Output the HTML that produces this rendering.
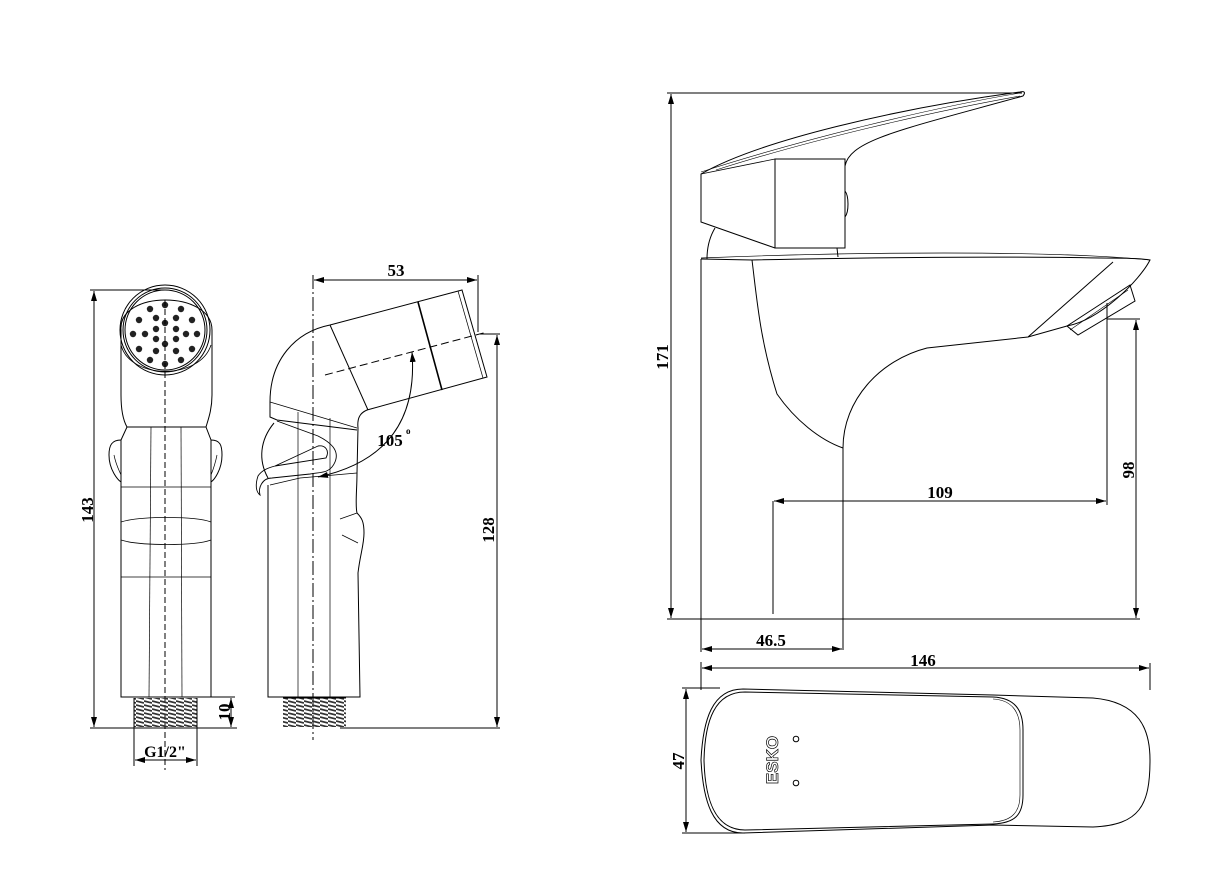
<!DOCTYPE html>
<html><head><meta charset="utf-8"><style>
html,body{margin:0;padding:0;background:#fff}
svg{display:block}
text{font-family:"Liberation Serif",serif;font-weight:bold;fill:#000}
</style></head><body>
<svg width="1221" height="876" viewBox="0 0 1221 876" xmlns="http://www.w3.org/2000/svg">
<defs>
<marker id="a" viewBox="0 0 10 6" refX="10" refY="3" markerWidth="10" markerHeight="6" orient="auto-start-reverse" markerUnits="userSpaceOnUse"><path d="M0,0 L10,3 L0,6 z" fill="#000"/></marker>
<pattern id="th" width="8" height="4" patternUnits="userSpaceOnUse"><path d="M0,1 L8,3" stroke="#333" stroke-width="1.8"/></pattern>
</defs>
<g fill="none" stroke="#000" stroke-width="1">

<!-- ===== FRONT VIEW SPRAYER ===== -->
<line x1="94" y1="291" x2="94" y2="727" marker-start="url(#a)" marker-end="url(#a)"/>
<line x1="90" y1="290" x2="165" y2="290"/>
<line x1="90" y1="728" x2="237" y2="728"/>
<path d="M121,330 C118,290 212,290 212,330 L212,395 C212,410 208,420 206,427 L127,427 C123,420 121,410 121,395 Z"/>
<circle cx="165" cy="330" r="45"/>
<circle cx="165" cy="330" r="42"/>
<circle cx="165" cy="330" r="40"/>
<path d="M121,345 C130,380 200,380 211,345" stroke-width="0.8"/>
<g fill="#222" stroke="none">
<circle cx="165" cy="305" r="3.2"/><circle cx="150" cy="309" r="3.2"/><circle cx="181" cy="309" r="3.2"/>
<circle cx="139" cy="320" r="3.2"/><circle cx="192" cy="320" r="3.2"/><circle cx="156" cy="318" r="3.2"/><circle cx="176" cy="318" r="3.2"/>
<circle cx="165" cy="323" r="3.2"/><circle cx="133" cy="334" r="3.2"/><circle cx="145" cy="334" r="3.2"/><circle cx="156" cy="329" r="3.2"/>
<circle cx="176" cy="329" r="3.2"/><circle cx="186" cy="334" r="3.2"/><circle cx="197" cy="334" r="3.2"/>
<circle cx="156" cy="339" r="3.2"/><circle cx="176" cy="339" r="3.2"/><circle cx="165" cy="344" r="3.2"/>
<circle cx="139" cy="349" r="3.2"/><circle cx="192" cy="349" r="3.2"/><circle cx="156" cy="351" r="3.2"/><circle cx="176" cy="351" r="3.2"/>
<circle cx="150" cy="360" r="3.2"/><circle cx="181" cy="360" r="3.2"/><circle cx="165" cy="364" r="3.2"/>
</g>
<path d="M127,427 L121,440 L121,697 L211,697 L211,440 L206,427"/>
<path d="M121,440 C112,440 109,445 109,455 C109,470 118,480 121,482"/>
<path d="M114,455 C116,465 119,470 121,475" stroke-width="0.7"/>
<path d="M211,440 C220,440 222,445 222,455 C222,470 214,480 211,482"/>
<path d="M217,455 C215,465 213,470 211,475" stroke-width="0.7"/>
<line x1="121" y1="487" x2="211" y2="487" stroke-width="0.8"/>
<line x1="121" y1="577" x2="211" y2="577" stroke-width="0.8"/>
<path d="M121,522 C140,516 195,516 211,522 L211,540 C195,546 140,546 121,540" stroke-width="0.8"/>
<line x1="151" y1="427" x2="149" y2="697" stroke-width="0.7"/>
<line x1="181" y1="427" x2="182" y2="697" stroke-width="0.7"/>
<line x1="165" y1="300" x2="165" y2="770" stroke-dasharray="6,3"/>
<rect x="134" y="698" width="63" height="29" fill="url(#th)" stroke="none"/>
<line x1="134" y1="698" x2="134" y2="766"/><line x1="197" y1="698" x2="197" y2="766"/>
<line x1="135" y1="760" x2="196" y2="760" marker-start="url(#a)" marker-end="url(#a)"/>
<line x1="200" y1="697" x2="235" y2="697"/>
<line x1="231" y1="698" x2="231" y2="727" marker-start="url(#a)" marker-end="url(#a)"/>

<!-- ===== SIDE VIEW SPRAYER ===== -->
<line x1="314" y1="280" x2="477" y2="280" marker-start="url(#a)" marker-end="url(#a)"/>
<line x1="313" y1="275" x2="313" y2="740" stroke-dasharray="14,3,2,3"/>
<line x1="478" y1="275" x2="478" y2="332"/>
<line x1="480" y1="334" x2="500" y2="334"/>
<line x1="497" y1="335" x2="497" y2="727" marker-start="url(#a)" marker-end="url(#a)"/>
<line x1="340" y1="728" x2="500" y2="728"/>
<path d="M270,402 C270,360 295,332 330,325 L462,290 L487,377 L367,410 C360,413 357,418 358,428 L357,473 C357,490 355,505 357,513 C362,518 364,522 364,533 C364,545 360,555 358,573 L360,697 L268,697 L268,485"/>
<line x1="330" y1="325" x2="368" y2="410"/>
<line x1="418" y1="302" x2="442" y2="390" stroke-width="1.6"/>
<line x1="458" y1="291" x2="483" y2="378" stroke-width="0.7"/>
<line x1="325" y1="375" x2="487" y2="332" stroke-dasharray="8,4"/>
<path d="M270,402 L270,417 L277,420 L357,430"/>
<line x1="270" y1="402" x2="357" y2="428" stroke-width="0.7"/>
<path d="M274,423 C260,440 258,460 268,478"/>
<path d="M277,421 L318,436 C330,442 340,450 335,462 C330,474 320,472 310,474 L272,478 C262,478 258,488 260,495 C256,492 255,485 258,476 C262,470 268,468 275,466 L318,446 C325,445 330,450 326,458 L275,466" stroke-width="0.9"/>
<path d="M270,485 L300,478 L357,473" stroke-width="0.8"/>
<line x1="298" y1="412" x2="298" y2="697" stroke-width="0.7"/>
<line x1="330" y1="418" x2="330" y2="697" stroke-width="0.7"/>
<path d="M357,513 L340,519 M358,543 L342,535" stroke-width="0.7"/>
<rect x="283" y="698" width="63" height="29" fill="url(#th)" stroke="none"/>
<line x1="283" y1="698" x2="346" y2="698"/>
<path d="M412,352 Q420,455 318,477" marker-start="url(#a)" marker-end="url(#a)"/>

<!-- ===== FAUCET SIDE VIEW ===== -->
<line x1="671" y1="94" x2="671" y2="618" marker-start="url(#a)" marker-end="url(#a)"/>
<line x1="667" y1="93" x2="1022" y2="93"/>
<line x1="667" y1="619" x2="1140" y2="619"/>
<path d="M701,259 L701,619"/>
<path d="M701,259 L752,260 C850,258 1000,256 1100,258 C1130,258 1145,259 1150,260 C1140,280 1100,320 1067,326 L1028,337 L927,348 C880,360 843,400 843,448 L843,650"/>
<path d="M701,258 C850,252 1050,250 1150,260" stroke-width="0.7"/>
<path d="M752,260 C757,300 760,340 777,394 C795,420 820,440 843,448"/>
<line x1="1028" y1="337" x2="1113" y2="262"/>
<path d="M1067,326 L1130,285 L1135,301 L1078,335 Z"/>
<line x1="1070" y1="330" x2="1128" y2="290" stroke-width="0.6"/>
<path d="M701,174 L701,222 L775,248 L845,248 L845,166 C850,140 900,130 1023,96 C1026,92 1024,91 1020,92 C900,108 760,140 701,174 Z"/>
<rect x="775" y="159" width="70" height="89"/>
<path d="M701,174 L775,159" stroke-width="0.8"/>
<path d="M701,172 C800,140 930,108 1020,93" stroke-width="0.6"/>
<path d="M716,170 C810,140 930,112 1020,96" stroke-width="0.6"/>
<path d="M715,228 C709,238 707,248 707,259"/>
<path d="M837,248 L838,257"/>
<path d="M845,191 C849,196 849,212 845,217"/>
<line x1="1107" y1="303" x2="1107" y2="505"/>
<line x1="1107" y1="319" x2="1140" y2="319"/>
<line x1="1136" y1="320" x2="1136" y2="618" marker-start="url(#a)" marker-end="url(#a)"/>
<line x1="774" y1="501" x2="1106" y2="501" marker-start="url(#a)" marker-end="url(#a)"/>
<line x1="773" y1="501" x2="773" y2="614"/>
<line x1="701" y1="619" x2="701" y2="652"/>
<line x1="702" y1="649" x2="842" y2="649" marker-start="url(#a)" marker-end="url(#a)"/>

<!-- ===== TOP VIEW ===== -->
<line x1="701" y1="662" x2="701" y2="690"/>
<line x1="1150" y1="663" x2="1150" y2="690"/>
<line x1="702" y1="668" x2="1149" y2="668" marker-start="url(#a)" marker-end="url(#a)"/>
<line x1="682" y1="688" x2="720" y2="688"/>
<line x1="682" y1="833" x2="745" y2="833"/>
<line x1="686" y1="689" x2="686" y2="832" marker-start="url(#a)" marker-end="url(#a)"/>
<path d="M743,689 L993,695 L1093,698 C1140,702 1150,730 1150,760 C1150,805 1140,825 1093,827 L993,825 L743,833 C712,833 703,800 701,760 C703,720 712,689 743,689 Z"/>
<path d="M745,692 L993,697 C1015,698 1023,710 1023,730 L1023,795 C1023,815 1015,823 993,824 L745,830 C715,830 705,800 704,760 C705,720 715,692 745,692 Z"/>
<path d="M993,699 C1012,700 1020,712 1020,730 L1020,795 C1020,812 1012,821 993,822" stroke-width="0.6"/>
<circle cx="796" cy="739" r="2.8"/>
<circle cx="796" cy="783" r="2.8"/>
</g>

<!-- text -->
<text x="0" y="0" font-size="17" transform="translate(93,510) rotate(-90)" text-anchor="middle">143</text>
<text x="0" y="0" font-size="17" transform="translate(230,712) rotate(-90)" text-anchor="middle">10</text>
<text x="165" y="757" font-size="16" text-anchor="middle">G1/2"</text>
<text x="396" y="276" font-size="17" text-anchor="middle">53</text>
<text x="0" y="0" font-size="17" transform="translate(494,530) rotate(-90)" text-anchor="middle">128</text>
<text x="390" y="446" font-size="17" text-anchor="middle">105</text>
<text x="406" y="434" font-size="9" font-weight="normal">o</text>
<text x="0" y="0" font-size="17" transform="translate(668,357) rotate(-90)" text-anchor="middle">171</text>
<text x="0" y="0" font-size="17" transform="translate(1134,470) rotate(-90)" text-anchor="middle">98</text>
<text x="940" y="498" font-size="17" text-anchor="middle">109</text>
<text x="771" y="646" font-size="17" text-anchor="middle">46.5</text>
<text x="923" y="666" font-size="17" text-anchor="middle">146</text>
<text x="0" y="0" font-size="17" transform="translate(684,761) rotate(-90)" text-anchor="middle">47</text>
<text x="0" y="0" font-size="17" font-weight="normal" transform="translate(778,760) rotate(-90)" text-anchor="middle" style="font-family:'Liberation Sans',sans-serif;fill:none;stroke:#000;stroke-width:0.7">ESKO</text>
</svg>
</body></html>
